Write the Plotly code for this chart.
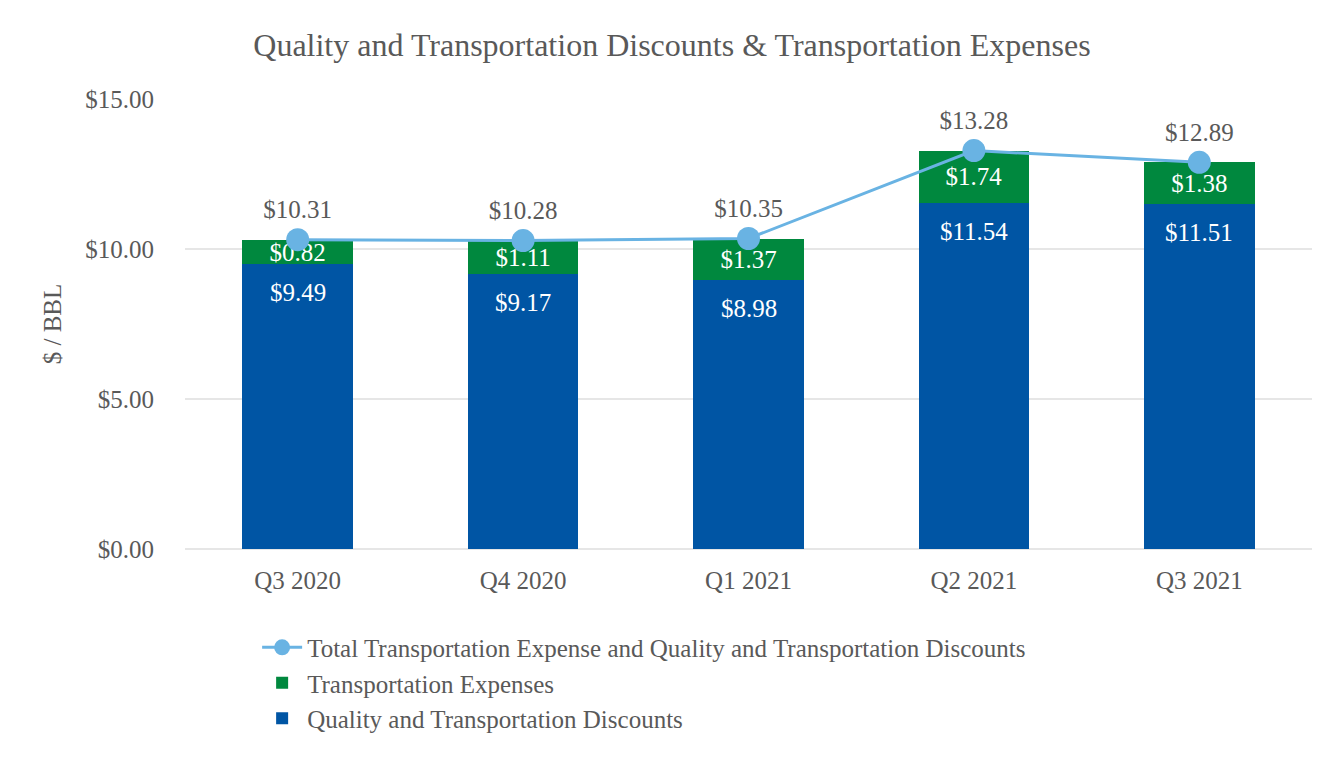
import plotly.graph_objects as go

categories = ["Q3 2020", "Q4 2020", "Q1 2021", "Q2 2021", "Q3 2021"]
discounts = [9.49, 9.17, 8.98, 11.54, 11.51]
expenses = [0.82, 1.11, 1.37, 1.74, 1.38]
totals = [10.31, 10.28, 10.35, 13.28, 12.89]
tick_vals = [0, 5, 10, 15]
tick_text = ["$0.00", "$5.00", "$10.00", "$15.00"]

FONT = "Liberation Serif"
GREY = "#595959"

fig = go.Figure()
fig.add_trace(go.Bar(
    x=categories, y=discounts, name="Quality and Transportation Discounts",
    marker=dict(color="#0055A4", line=dict(width=0)),
    textposition="none",
    legendrank=3,
))
fig.add_trace(go.Bar(
    x=categories, y=expenses, name="Transportation Expenses",
    marker=dict(color="#00883E", line=dict(width=0)),
    text=[f"${v:.2f}" for v in expenses], textposition="inside",
    insidetextanchor="middle", constraintext="none",
    textfont=dict(family=FONT, size=25, color="white"),
    legendrank=2,
))
fig.add_trace(go.Scatter(
    x=categories, y=totals, name="Total Transportation Expense and Quality and Transportation Discounts",
    mode="lines+markers+text",
    line=dict(color="#69B3E3", width=3),
    marker=dict(color="#69B3E3", size=23),
    text=[f"${v:.2f}" for v in totals], textposition="top center",
    textfont=dict(family=FONT, size=25, color=GREY),
    legendrank=1,
))

# labels for the blue segments, placed just below the top of each segment
for c, v in zip(categories, discounts):
    fig.add_annotation(x=c, y=v, xref="x", yref="y", text=f"${v:.2f}",
                       showarrow=False, yanchor="top", yshift=-13,
                       font=dict(family=FONT, size=25, color="white"))

fig.update_layout(
    width=1344, height=760,
    barmode="stack", bargap=0.51,
    paper_bgcolor="white", plot_bgcolor="white",
    margin=dict(l=177, r=40, t=91, b=219),
    font=dict(family=FONT, size=25, color=GREY),
    title=dict(text="Quality and Transportation Discounts & Transportation Expenses",
               x=0.494, xanchor="center", y=0.951, yanchor="middle",
               font=dict(family=FONT, size=32, color=GREY)),
    xaxis=dict(showgrid=False, showline=False, ticks="", ticklabelstandoff=14,
               tickfont=dict(size=25, color=GREY)),
    yaxis=dict(range=[0, 15], tickvals=tick_vals, ticktext=tick_text,
               showgrid=True, gridcolor="#E6E6E6", gridwidth=2, zeroline=True,
               zerolinecolor="#E6E6E6", zerolinewidth=2, showline=False,
               ticks="", ticklabelstandoff=30,
               tickfont=dict(size=25, color=GREY),
               title=dict(text="$ / BBL", font=dict(size=25, color=GREY), standoff=16)),
    legend=dict(orientation="v", x=0.064, xanchor="left", y=-0.168, yanchor="top",
                traceorder="normal", font=dict(family=FONT, size=25, color=GREY),
                itemwidth=40, tracegroupgap=0, bgcolor="rgba(0,0,0,0)"),
    showlegend=True,
)

fig.write_html("out.html")
